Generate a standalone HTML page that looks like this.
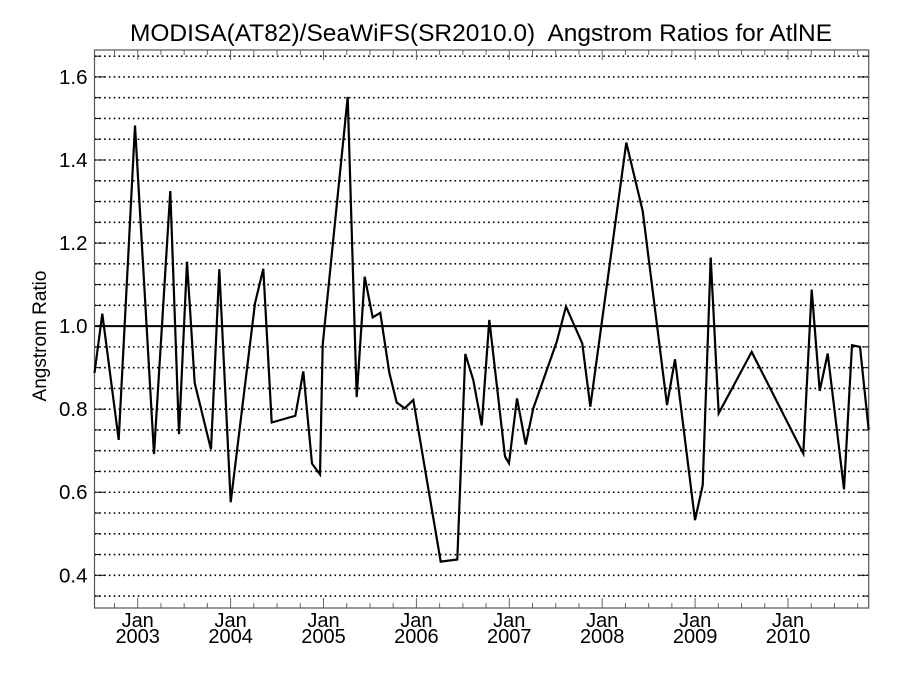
<!DOCTYPE html>
<html><head><meta charset="utf-8"><style>
body{margin:0;background:#fff;}
svg{display:block;font-family:"Liberation Sans",sans-serif;}
</style></head><body>
<svg id="chart" width="900" height="675" viewBox="0 0 900 675" xmlns="http://www.w3.org/2000/svg">
<text x="481" y="41" font-size="24.5" text-anchor="middle" style="white-space:pre">MODISA(AT82)/SeaWiFS(SR2010.0)  Angstrom Ratios for AtlNE</text>
<text transform="translate(46,336) rotate(-90)" font-size="19" text-anchor="middle">Angstrom Ratio</text>
<g id="grid"></g><g id="axes"></g><g id="series"></g>
</svg>
<script>
const times=[2002.535,2002.619,2002.795,2002.971,2003.175,2003.351,2003.445,2003.531,2003.614,2003.789,2003.878,2004.001,2004.263,2004.352,2004.442,2004.696,2004.783,2004.876,2004.962,2004.991,2005.124,2005.260,2005.357,2005.443,2005.530,2005.611,2005.708,2005.788,2005.874,2005.967,2006.262,2006.440,2006.526,2006.613,2006.703,2006.785,2006.954,2006.997,2007.083,2007.177,2007.258,2007.510,2007.610,2007.786,2007.872,2008.259,2008.436,2008.698,2008.784,2008.999,2009.082,2009.168,2009.254,2009.609,2010.165,2010.255,2010.341,2010.427,2010.603,2010.689,2010.775,2010.869];
const ratios=[0.887,1.03,0.726,1.483,0.692,1.325,0.74,1.155,0.863,0.703,1.137,0.576,1.055,1.138,0.768,0.784,0.891,0.669,0.643,0.955,1.25,1.552,0.829,1.119,1.021,1.032,0.888,0.816,0.802,0.822,0.433,0.438,0.933,0.870,0.761,1.015,0.686,0.670,0.826,0.715,0.802,0.962,1.047,0.958,0.806,1.442,1.277,0.81,0.92,0.533,0.617,1.165,0.79,0.938,0.693,1.088,0.844,0.934,0.607,0.954,0.95,0.75];
const yearLabels=["2003","2004","2005","2006","2007","2008","2009","2010"];
const yTickLabels=["0.4","0.6","0.8","1.0","1.2","1.4","1.6"];
const refLine=[1.0];

const L=94.5,R=868.7,T=50,B=608;
const x=t=>137.7+(t-2003)*92.9;
const y=v=>575.3-(v-0.4)*415.3;
const NS="http://www.w3.org/2000/svg";
function mk(tag,parent,attrs){const e=document.createElementNS(NS,tag);for(const k in attrs)e.setAttribute(k,attrs[k]);parent.appendChild(e);return e;}
const grid=document.getElementById('grid'),axes=document.getElementById('axes'),ser=document.getElementById('series');
for(let i=7;i<=33;i++){const v=i*0.05;if(Math.abs(v-1)<1e-6)continue;
 const g=mk('line',grid,{x1:L,x2:R,y1:y(v),y2:y(v),stroke:'#000','stroke-width':1.6,'stroke-dasharray':'1.6 3.2'});
 
 
 const len=(i%4===0)?10:5;
 mk('line',axes,{x1:L,x2:L+len,y1:y(v),y2:y(v),stroke:'#000','stroke-width':1});
 mk('line',axes,{x1:R,x2:R-len,y1:y(v),y2:y(v),stroke:'#000','stroke-width':1});
}
yTickLabels.forEach(s=>{const v=parseFloat(s);
 const t=mk('text',axes,{x:L-7,y:y(v)+7,'font-size':20.5,'text-anchor':'end'});t.textContent=s;
 
 
});
for(let q=2002.5;q<=2011;q+=0.25){const px=x(q);if(px<L||px>R)continue;
 const major=Math.abs(q-Math.round(q))<1e-6;const len=major?10:5;
 mk('line',axes,{x1:px,x2:px,y1:B,y2:B-len,stroke:'#666','stroke-width':1});
 mk('line',axes,{x1:px,x2:px,y1:T,y2:T+len,stroke:'#666','stroke-width':1});
}
yearLabels.forEach(s=>{const px=x(parseFloat(s));
 const a=mk('text',axes,{x:px,y:627,'font-size':20,'text-anchor':'middle'});a.textContent='Jan';
 
 
 const b=mk('text',axes,{x:px,y:643,'font-size':20,'text-anchor':'middle'});b.textContent=s;
 
 
});
refLine.forEach(v=>{const r=mk('line',axes,{x1:L,x2:R,y1:y(v),y2:y(v),stroke:'#000','stroke-width':2});
 
 });
const fr=mk('rect',axes,{x:L,y:T,width:R-L,height:B-T,fill:'none',stroke:'#555','stroke-width':1.2});


const pts=times.map((t,i)=>x(t).toFixed(1)+','+y(ratios[i]).toFixed(1)).join(' ');
const pl=mk('polyline',ser,{points:pts,fill:'none',stroke:'#000','stroke-width':2.2,'stroke-linejoin':'miter'});


</script>
</body></html>
